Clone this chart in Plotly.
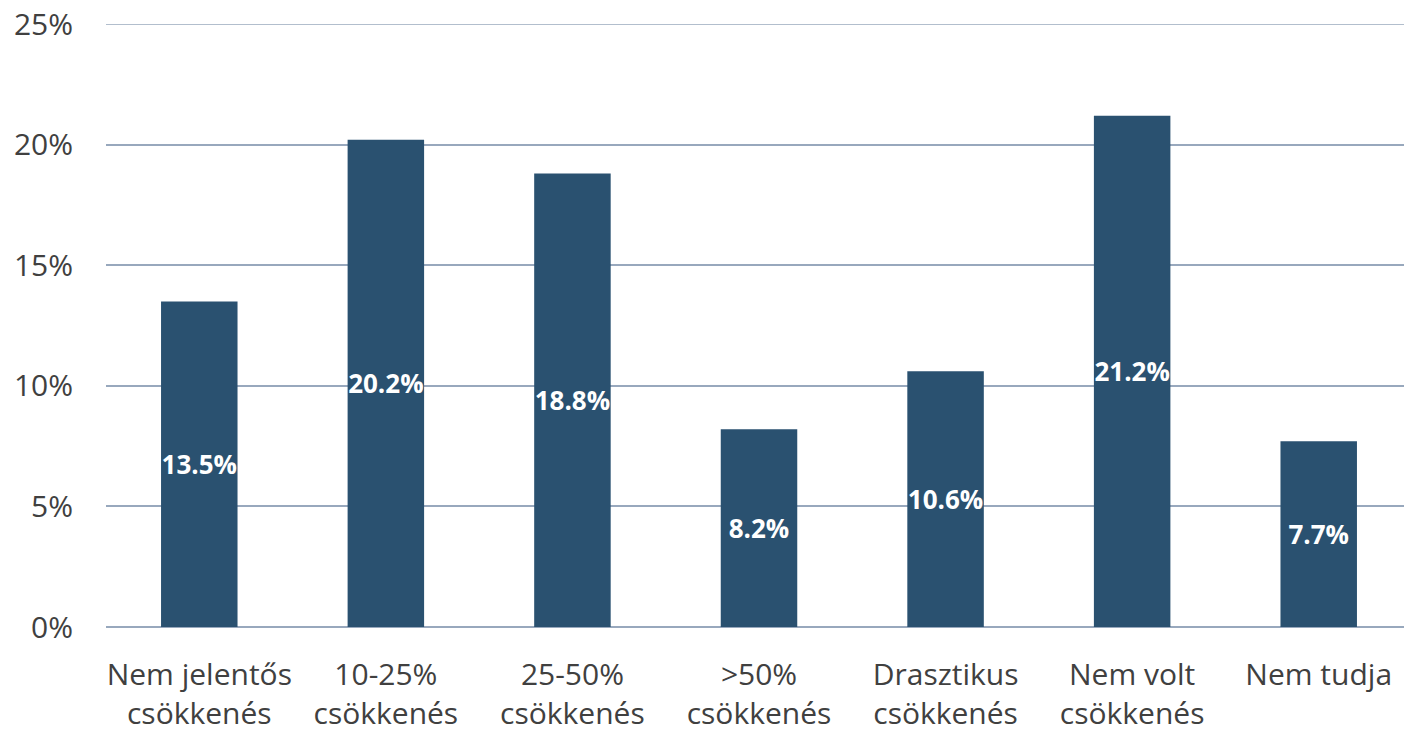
import plotly.graph_objects as go

categories = ["Nem jelentős<br>csökkenés", "10-25%<br>csökkenés", "25-50%<br>csökkenés",
              ">50%<br>csökkenés", "Drasztikus<br>csökkenés", "Nem volt<br>csökkenés", "Nem tudja"]
values = [13.5, 20.2, 18.8, 8.2, 10.6, 21.2, 7.7]
labels = [f"{v:.1f}%" for v in values]
y_ticks = [0, 5, 10, 15, 20, 25]
y_ticktext = [f"{t}%" for t in y_ticks]

FONT = "Open Sans, Noto Sans, sans-serif"
GRID = "#98a8bd"

fig = go.Figure(go.Bar(
    x=categories, y=values, text=labels,
    textposition="inside", insidetextanchor="middle",
    textangle=0, constraintext="none",
    textfont=dict(family=FONT, size=26, color="white", weight="bold"),
    marker=dict(color="#2a5170", line=dict(width=0)),
    cliponaxis=False,
))

fig.update_layout(
    width=1404, height=723,
    margin=dict(l=98, r=0, t=16, b=104),
    plot_bgcolor="white", paper_bgcolor="white",
    bargap=0.59,
    showlegend=False,
    font=dict(family=FONT, size=30, color="#404040"),
)
# top gridline (plotly drops grid lines lying on the range edge)
fig.add_shape(type="line", xref="paper", yref="y", x0=0, x1=1, y0=y_ticks[-1], y1=y_ticks[-1],
              line=dict(color=GRID, width=1.5), layer="below")
fig.update_yaxes(range=[0, 25], tickvals=y_ticks, ticktext=y_ticktext, automargin=False,
                 showgrid=True, gridcolor=GRID, gridwidth=1.5, zeroline=True, zerolinecolor=GRID,
                 zerolinewidth=1.5, ticklabelstandoff=32, ticklabeloverflow="allow",
                 tickfont=dict(size=30, color="#404040"), showline=False)
fig.update_xaxes(showline=False, tickfont=dict(size=30, color="#404040"), ticklabelstandoff=27,
                 ticklabeloverflow="allow", automargin=False)

fig.write_html("out.html")
